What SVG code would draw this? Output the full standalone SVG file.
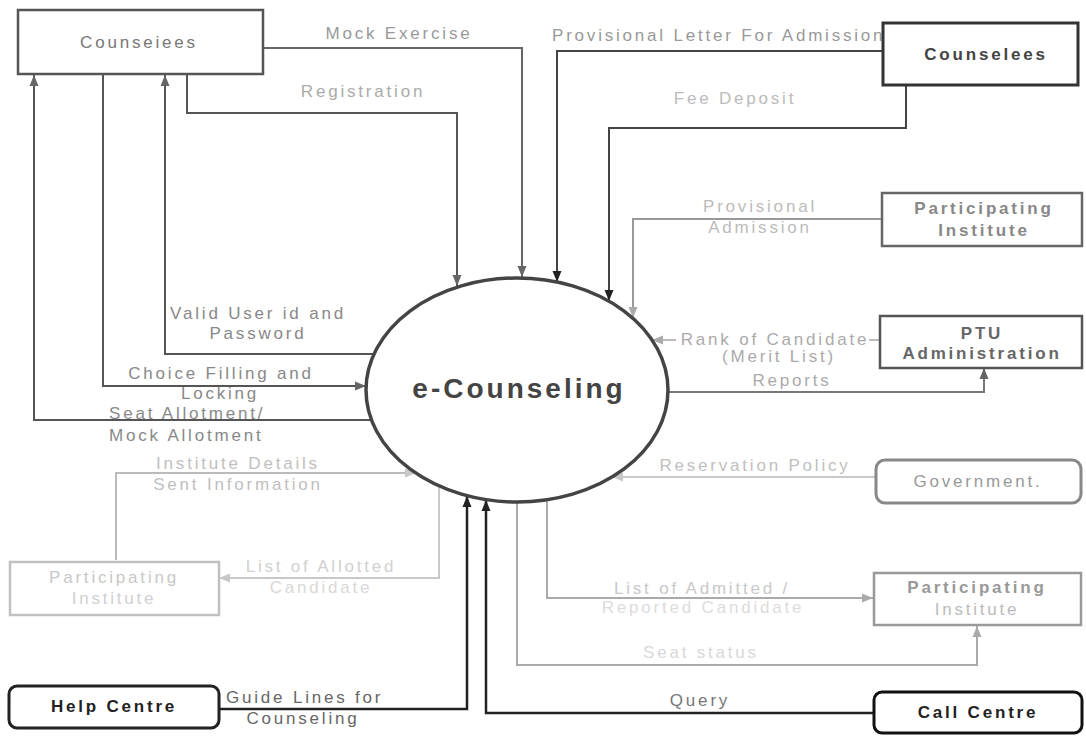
<svg xmlns="http://www.w3.org/2000/svg" width="1086" height="738" viewBox="0 0 1086 738">
<style>
text{font-family:"Liberation Sans",Arial,sans-serif;font-size:17px;letter-spacing:2.8px}
.m{text-anchor:middle}
.b{font-weight:bold}
.box{fill:#fff}
.ln{fill:none}
</style>
<defs>
<marker id="aD" markerUnits="userSpaceOnUse" markerWidth="12" markerHeight="10" refX="11" refY="5" orient="auto"><path d="M0,0.5 L11,5 L0,9.5 z" fill="#222"/></marker>
<marker id="aM" markerUnits="userSpaceOnUse" markerWidth="12" markerHeight="10" refX="11" refY="5" orient="auto"><path d="M0,0.5 L11,5 L0,9.5 z" fill="#666"/></marker>
<marker id="aL" markerUnits="userSpaceOnUse" markerWidth="12" markerHeight="10" refX="11" refY="5" orient="auto"><path d="M0,0.5 L11,5 L0,9.5 z" fill="#aaa"/></marker>
<marker id="aX" markerUnits="userSpaceOnUse" markerWidth="12" markerHeight="10" refX="11" refY="5" orient="auto"><path d="M0,0.5 L11,5 L0,9.5 z" fill="#c8c8c8"/></marker>
</defs>
<rect width="1086" height="738" fill="#fff"/>

<g id="connectors">
<path class="ln" d="M263,48 H522 V277" stroke="#666" stroke-width="2" marker-end="url(#aM)"/>
<path class="ln" d="M187,74 V113 H457 V286" stroke="#555" stroke-width="2" marker-end="url(#aM)"/>
<path class="ln" d="M372,420 H34 V75" stroke="#555" stroke-width="2" marker-end="url(#aM)"/>
<path class="ln" d="M103,74 V386 H366" stroke="#555" stroke-width="2" marker-end="url(#aM)"/>
<path class="ln" d="M374,354 H165 V75" stroke="#555" stroke-width="2" marker-end="url(#aM)"/>
<path class="ln" d="M116,560 V473 H416" stroke="#bbb" stroke-width="2" marker-end="url(#aX)"/>
<path class="ln" d="M439,486 V578 H219" stroke="#c8c8c8" stroke-width="2" marker-end="url(#aX)"/>
<path class="ln" d="M219,709 H467 V496" stroke="#222" stroke-width="2.5" marker-end="url(#aD)"/>
<path class="ln" d="M874,713 H486 V500" stroke="#222" stroke-width="2.5" marker-end="url(#aD)"/>
<path class="ln" d="M883,51 H557 V282" stroke="#444" stroke-width="2" marker-end="url(#aD)"/>
<path class="ln" d="M906,85 V128 H609 V301" stroke="#444" stroke-width="2" marker-end="url(#aD)"/>
<path class="ln" d="M882,219 H633 V318" stroke="#999" stroke-width="2" marker-end="url(#aL)"/>
<path class="ln" d="M880,340 H652" stroke="#bbb" stroke-width="2" marker-end="url(#aL)"/>
<rect x="676" y="333" width="193" height="14" fill="#fff"/>
<path class="ln" d="M668,392 H984 V368" stroke="#777" stroke-width="2" marker-end="url(#aM)"/>
<path class="ln" d="M876,477 H612" stroke="#c8c8c8" stroke-width="2" marker-end="url(#aX)"/>
<path class="ln" d="M547,500 V598 H873" stroke="#aaa" stroke-width="2" marker-end="url(#aL)"/>
<path class="ln" d="M517,502 V665 H977 V626" stroke="#aaa" stroke-width="2" marker-end="url(#aL)"/>

<text x="399" y="39" class="m" fill="#999">Mock Exercise</text>
<text x="363" y="97" class="m" fill="#aaa">Registration</text>
<text x="552" y="41" fill="#999">Provisional Letter For Admission</text>
<text x="735" y="104" class="m" fill="#bbb">Fee Deposit</text>
<text x="760" y="212" class="m" fill="#bbb">Provisional</text>
<text x="760" y="233" class="m" fill="#bbb">Admission</text>
<text x="258" y="319" class="m" fill="#888">Valid User id and</text>
<text x="258" y="339" class="m" fill="#888">Password</text>
<text x="221" y="379" class="m" fill="#888">Choice Filling and</text>
<text x="220" y="399" class="m" fill="#888">Locking</text>
<text x="109" y="419" fill="#888">Seat Allotment/</text>
<text x="109" y="441" fill="#888">Mock Allotment</text>
<text x="238" y="469" class="m" fill="#c0c0c0">Institute Details</text>
<text x="238" y="490" class="m" fill="#c0c0c0">Sent Information</text>
<text x="321" y="572" class="m" fill="#d0d0d0">List of Allotted</text>
<text x="321" y="593" class="m" fill="#d8d8d8">Candidate</text>
<text x="226" y="703" fill="#666">Guide Lines for</text>
<text x="303" y="724" class="m" fill="#666">Counseling</text>
<text x="775" y="345" class="m" fill="#aaa">Rank of Candidate</text>
<text x="779" y="362" class="m" fill="#aaa">(Merit List)</text>
<text x="792" y="386" class="m" fill="#aaa">Reports</text>
<text x="755" y="471" class="m" fill="#c0c0c0">Reservation Policy</text>
<text x="702" y="594" class="m" fill="#c8c8c8">List of Admitted /</text>
<text x="703" y="613" class="m" fill="#dcdcdc">Reported Candidate</text>
<text x="701" y="658" class="m" fill="#d8d8d8">Seat status</text>
<text x="700" y="706" class="m" fill="#777">Query</text>
</g>

<g id="ecounseling">
<ellipse cx="517" cy="390" rx="151" ry="112" fill="#fff" stroke="#444" stroke-width="3.5"/>
<text x="519" y="398" class="m b" fill="#444" style="font-size:28px;letter-spacing:3px">e-Counseling</text>
</g>

<g id="counselees-left">
<rect class="box" x="18" y="10" width="245" height="64" stroke="#555" stroke-width="2.5"/>
<text x="139" y="48" class="m" fill="#777">Counseiees</text>
</g>

<g id="counselees-right">
<rect class="box" x="883" y="23" width="195" height="62" stroke="#333" stroke-width="3"/>
<text x="986" y="60" class="m b" fill="#444">Counselees</text>
</g>

<g id="participating-top">
<rect class="box" x="882" y="193" width="200" height="53" stroke="#666" stroke-width="2.5"/>
<text x="984" y="214" class="m b" fill="#888">Participating</text>
<text x="984" y="236" class="m b" fill="#888">Institute</text>
</g>

<g id="ptu">
<rect class="box" x="880" y="316" width="202" height="52" stroke="#555" stroke-width="2.5"/>
<text x="982" y="339" class="m b" fill="#666">PTU</text>
<text x="982" y="359" class="m b" fill="#666">Administration</text>
</g>

<g id="government">
<rect class="box" x="876" y="460" width="205" height="43" rx="9" stroke="#888" stroke-width="3"/>
<text x="978" y="487" class="m" fill="#999">Government.</text>
</g>

<g id="participating-bottom">
<rect class="box" x="874" y="573" width="207" height="52" stroke="#999" stroke-width="2.5"/>
<text x="977" y="593" class="m b" fill="#999">Participating</text>
<text x="977" y="615" class="m" fill="#bbb">Institute</text>
</g>

<g id="participating-left">
<rect class="box" x="10" y="562" width="209" height="53" stroke="#c0c0c0" stroke-width="2.5"/>
<text x="114" y="583" class="m" fill="#c8c8c8">Participating</text>
<text x="114" y="604" class="m" fill="#d0d0d0">Institute</text>
</g>

<g id="help-centre">
<rect class="box" x="9" y="686" width="210" height="42" rx="8" stroke="#222" stroke-width="3"/>
<text x="114" y="712" class="m b" fill="#222">Help Centre</text>
</g>

<g id="call-centre">
<rect class="box" x="874" y="692" width="208" height="41" rx="8" stroke="#111" stroke-width="3"/>
<text x="978" y="718" class="m b" fill="#222">Call Centre</text>
</g>
</svg>
